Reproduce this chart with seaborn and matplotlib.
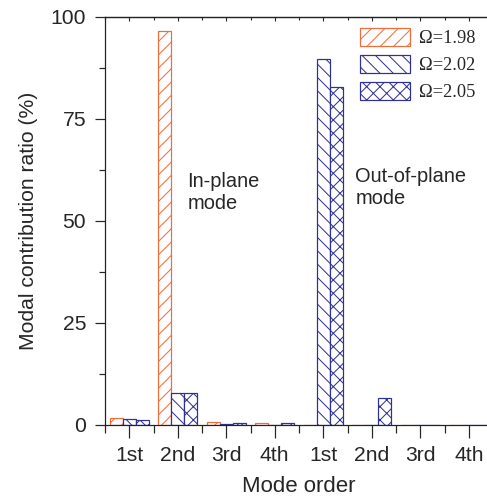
import pandas as pd
import matplotlib
matplotlib.use('Agg')
import matplotlib.pyplot as plt
import seaborn as sns

# values
mode_labels = ['1st', '2nd', '3rd', '4th', '1st', '2nd', '3rd', '4th']
omega_levels = ['Ω=1.98', 'Ω=2.02', 'Ω=2.05']
ratio_198 = [1.6, 96.6, 0.7, 0.4, 0.0, 0.0, 0.0, 0.0]
ratio_202 = [1.5, 7.9, 0.3, 0.1, 89.8, 0.0, 0.0, 0.0]
ratio_205 = [1.2, 7.9, 0.6, 0.4, 82.8, 6.5, 0.0, 0.0]

colors = ['#F26B3A', '#2E3192', '#2E3192']
hatches = ['//', '\\\\', 'xx']

# long-form table for seaborn
rows = []
for omega, vals in zip(omega_levels, [ratio_198, ratio_202, ratio_205]):
    for g, v in enumerate(vals):
        rows.append({'group': g, 'omega': omega, 'ratio': v})
df = pd.DataFrame(rows)

sns.set_style('ticks')
plt.rcParams['font.family'] = ['Liberation Sans', 'DejaVu Sans']
plt.rcParams['hatch.linewidth'] = 0.9

dpi = 80
fig = plt.figure(figsize=(487 / dpi, 502 / dpi), dpi=dpi)
ax = fig.add_axes([105 / 487, 77 / 502, 388 / 487, 408 / 502])

sns.barplot(data=df, x='group', y='ratio', hue='omega', hue_order=omega_levels,
            palette=colors, ax=ax, legend=False, width=0.8, gap=0)

for cont, col, h in zip(ax.containers, colors, hatches):
    for bar in cont:
        bar.set_facecolor('white')
        bar.set_edgecolor(col)
        bar.set_hatch(h)
        bar.set_linewidth(1.1)

ax.set_xlim(-0.5, 7.5)
ax.set_ylim(0, 100)
ax.set_xticks(range(len(mode_labels)))
ax.set_xticklabels(mode_labels, fontsize=19)
ax.set_xticks([i - 0.5 for i in range(len(mode_labels) + 1)], minor=True)
ax.set_yticks([0, 25, 50, 75, 100])
ax.set_yticks([12.5, 37.5, 62.5, 87.5], minor=True)
ax.tick_params(axis='y', labelsize=19)
ax.tick_params(axis='x', which='major', length=12, width=1.1, direction='out', pad=7)
ax.tick_params(axis='x', which='minor', length=7, width=1.1, direction='out')
ax.tick_params(axis='y', which='major', length=9, width=1.1, direction='out', pad=8)
ax.tick_params(axis='y', which='minor', length=5, width=1.1, direction='out')

ax.set_xlabel('Mode order', fontsize=20, labelpad=10)
ax.set_ylabel('Modal contribution ratio (%)', fontsize=19, labelpad=11)

for side in ['left', 'bottom', 'top']:
    ax.spines[side].set_linewidth(1.1)
    ax.spines[side].set_color('#222222')
ax.spines['right'].set_visible(False)

# mirrored ticks on the top spine
top = ax.secondary_xaxis('top')
top.set_xticks(range(len(mode_labels)))
top.set_xticks([i - 0.5 for i in range(len(mode_labels) + 1)], minor=True)
top.tick_params(which='major', direction='in', length=4, width=1.0, labeltop=False)
top.tick_params(which='minor', direction='in', length=3, width=1.0)
top.spines['top'].set_linewidth(1.1)

ax.text(1.2, 62.0, 'In-plane\nmode', fontsize=18, va='top', ha='left', linespacing=1.2)
ax.text(4.66, 63.3, 'Out-of-plane\nmode', fontsize=18, va='top', ha='left', linespacing=1.2)

ax.legend(ax.containers, omega_levels, loc='upper left',
          bbox_to_anchor=(360 / 487, 1 - 28 / 502), bbox_transform=fig.transFigure,
          frameon=False, borderpad=0, borderaxespad=0,
          prop={'family': ['Liberation Serif', 'DejaVu Serif'], 'size': 16.5},
          handlelength=2.75, handleheight=1.15, handletextpad=0.45, labelspacing=0.42)

fig.savefig('out.png', dpi=dpi)
